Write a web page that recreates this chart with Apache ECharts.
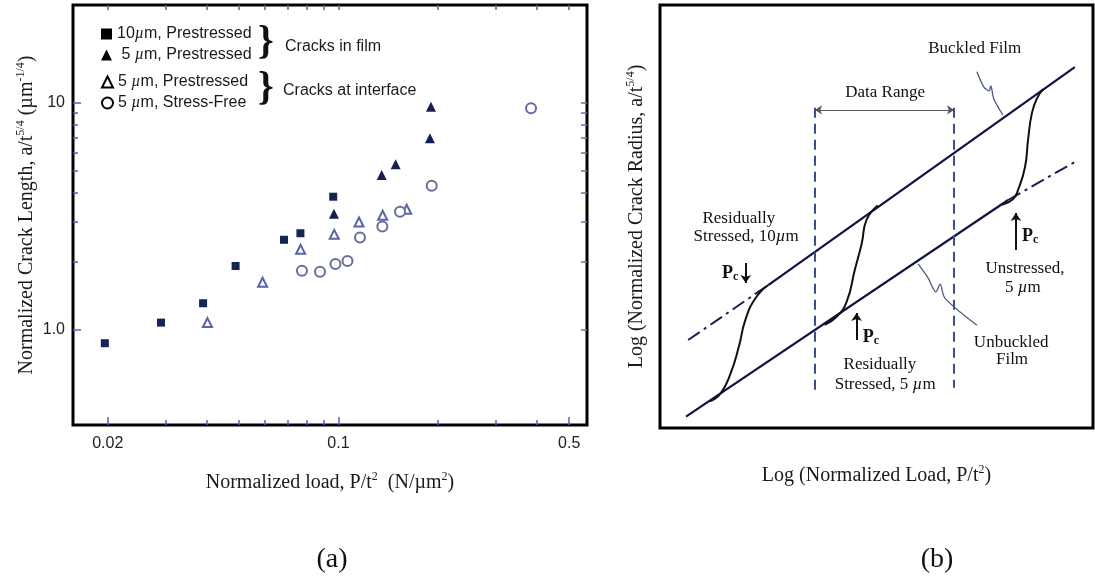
<!DOCTYPE html>
<html>
<head>
<meta charset="utf-8">
<script src="https://cdn.jsdelivr.net/npm/echarts@6/dist/echarts.min.js"></script>
<style>
    html, body { margin: 0; padding: 0; background: #fff; }
    #main { width: 1095px; height: 581px; }
</style>
</head>
<body>
<div id="main"></div>
<script>
// ---- panel (a): measured points [P/t^2, a/t^5/4] ----
var film10 = [[0.0196, 0.874], [0.0290, 1.077], [0.0389, 1.31], [0.0488, 1.91], [0.0684, 2.49], [0.0767, 2.66], [0.0964, 3.85]];
var film5 = [[0.0969, 3.24], [0.1352, 4.80], [0.1490, 5.35], [0.1893, 6.96], [0.1906, 9.58]];
var iface5 = [[0.0401, 1.077], [0.0589, 1.62], [0.0768, 2.26], [0.0971, 2.63], [0.1154, 2.98], [0.1361, 3.19], [0.1609, 3.39]];
var free5 = [[0.0775, 1.82], [0.0879, 1.80], [0.0979, 1.95], [0.1065, 2.01], [0.1162, 2.55], [0.1358, 2.85], [0.1536, 3.31], [0.1916, 4.30], [0.3831, 9.43]];
var seriesNames = ['10µm, Prestressed (film)', '5 µm, Prestressed (film)', '5 µm, Prestressed (interface)', '5 µm, Stress-Free (interface)'];
var legendLabels = ['{t|10}{it|µ}{t|m, Prestressed}', '{t| 5 }{it|µ}{t|m, Prestressed}', '{t|5 }{it|µ}{t|m, Prestressed}', '{t|5 }{it|µ}{t|m, Stress-Free}'];

var xTickValues = [0.02, 0.1, 0.5];
var xTickLabels = ['0.02', '0.1', '0.5'];
var xMinorTicks = [0.03, 0.04, 0.05, 0.06, 0.07, 0.08, 0.09, 0.2, 0.3, 0.4];
var yTickValues = [1, 10];
var yTickLabels = ['1.0', '10'];
var yMinorTicks = [2, 3, 4, 5, 6, 7, 8, 9];

// ---- panel (b): schematic, both axes 0..100 (log units) ----
var upperDash = [[6.5, 20.8], [25.0, 33.8]];
var upperSolid = [[25.0, 33.8], [95.8, 85.3]];
var lowerSolid = [[6.0, 2.7], [80.4, 53.9]];
var lowerDash = [[80.4, 53.9], [95.8, 62.9]];
var curve10 = [[11.5, 6.3], [14.0, 8.2], [16.3, 12.9], [18.2, 19.2], [19.7, 25.5], [22.0, 30.6], [25.0, 33.8]];
var curve5 = [[38.0, 24.4], [40.8, 26.3], [43.1, 29.8], [45.0, 37.4], [46.6, 43.7], [47.7, 49.2], [50.3, 52.6]];
var curveFree = [[79.0, 52.8], [81.5, 54.1], [82.7, 56.3], [84.3, 61.7], [85.0, 68.1], [85.9, 74.5], [87.1, 78.0], [88.5, 80.1]];
var rangeLeft = [[35.8, 75.7], [35.8, 8.3]];
var rangeRight = [[67.9, 75.7], [67.9, 9.5]];
var rangeArrow = [[35.8, 75.2], [67.9, 75.2]];
var pcArrows = [[[19.8, 39.0], [19.8, 34.3]], [[45.4, 20.8], [45.4, 27.2]], [[82.2, 42.1], [82.2, 50.8]]];
var buckledLeader = [[73.2, 84.2], [74.8, 80.6], [76.0, 79.7], [76.4, 80.9], [77.1, 77.8], [79.2, 74.0]];
var unbuckledLeader = [[59.6, 38.8], [61.9, 35.5], [63.7, 32.2], [64.7, 34.0], [65.8, 30.7], [73.2, 24.3]];
var noteText = ['Buckled Film', 'Data Range', 'Residually', 'Stressed, 10{it|µ}m', '{p|P}{c|c}',
    'Residually', 'Stressed, 5 {it|µ}m', '{p|P}{c|c}', 'Unstressed,', '5 {it|µ}m', 'Unbuckled', 'Film', '{p|P}{c|c}'];
var notePos = [[72.7, 89.8], [52.0, 79.4], [18.2, 49.6], [19.9, 45.2], [16.2, 36.6],
    [50.8, 14.9], [52.0, 10.2], [48.7, 21.5], [84.3, 37.6], [83.8, 33.3], [81.1, 20.3], [81.3, 16.3], [85.5, 45.4]];

function pickLabel(vals, labels, v) {
    var best = 0;
    for (var i = 1; i < vals.length; i++) {
        if (Math.abs(Math.log(vals[i] / v)) < Math.abs(Math.log(vals[best] / v))) best = i;
    }
    return labels[best];
}

var serif = 'Liberation Serif';
var sans = 'Liberation Sans';
var tickBlue = '#5a5ad6';
var supRich = {
    sup: { fontSize: 12, fontFamily: serif, verticalAlign: 'top', lineHeight: 12, color: '#1a1a1a' }
};
var x1 = 0.0157, x2 = 0.566, y1 = 0.382, y2 = 26.8;

function logX(opt) {
    return Object.assign({
        type: 'log', gridIndex: 0, min: x1, max: x2, position: 'bottom',
        axisLine: { show: false, onZero: false },
        splitLine: { show: false },
        axisLabel: { show: false },
        axisTick: { show: false }
    }, opt);
}
function logY(opt) {
    return Object.assign({
        type: 'log', gridIndex: 0, min: y1, max: y2, position: 'left',
        axisLine: { show: false, onZero: false },
        splitLine: { show: false },
        axisLabel: { show: false },
        axisTick: { show: false }
    }, opt);
}

var legendFmt = function (name) {
    return legendLabels[seriesNames.indexOf(name)];
};
var legendText = {
    rich: {
        t: { fontFamily: sans, fontSize: 16, color: '#1a1a1a' },
        it: { fontFamily: serif, fontSize: 16, fontStyle: 'italic', color: '#1a1a1a' }
    }
};

var chart = echarts.init(document.getElementById('main'));
var option = {
    backgroundColor: '#fff',
    animation: false,
    grid: [
        { left: 73, top: 5, width: 514, height: 420, show: true, borderColor: '#000', borderWidth: 3, backgroundColor: 'transparent' },
        { left: 660, top: 5, width: 433, height: 423, show: true, borderColor: '#000', borderWidth: 3, backgroundColor: 'transparent' }
    ],
    legend: [
        {
            data: [{ name: seriesNames[0], icon: 'rect', itemStyle: { color: '#000' } },
                   { name: seriesNames[1], icon: 'triangle', itemStyle: { color: '#000' } }],
            orient: 'vertical', left: 96, top: 21, itemWidth: 11, itemHeight: 11, itemGap: 5,
            selectedMode: false, formatter: legendFmt, textStyle: legendText
        },
        {
            data: [{ name: seriesNames[2], icon: 'emptyTriangle', itemStyle: { color: '#000', borderColor: '#000', borderWidth: 1.5 } },
                   { name: seriesNames[3], icon: 'emptyCircle', itemStyle: { color: '#000', borderColor: '#000', borderWidth: 1.5 } }],
            orient: 'vertical', left: 96, top: 69, itemWidth: 11, itemHeight: 11, itemGap: 5,
            selectedMode: false, formatter: legendFmt, textStyle: legendText
        }
    ],
    xAxis: [
        logX({
            axisTick: { show: true, inside: true, length: 8, customValues: xTickValues, lineStyle: { color: tickBlue, width: 1.5 } },
            axisLabel: {
                show: true, customValues: xTickValues, margin: 11,
                fontFamily: sans, fontSize: 16, color: '#222',
                formatter: function (v) { return pickLabel(xTickValues, xTickLabels, v); }
            },
            name: 'Normalized load, P/t{sup|2}  (N/µm{sup|2})',
            nameLocation: 'middle', nameGap: 46,
            nameTextStyle: { fontFamily: serif, fontSize: 20, color: '#1a1a1a', lineHeight: 24, rich: supRich }
        }),
        logX({
            axisTick: { show: true, inside: true, length: 5, customValues: xMinorTicks, lineStyle: { color: tickBlue, width: 1.5 } }
        }),
        logX({
            position: 'top',
            axisTick: { show: true, inside: true, length: 5, customValues: xTickValues.concat(xMinorTicks), lineStyle: { color: '#666', width: 1.5 } }
        }),
        {
            type: 'value', gridIndex: 1, min: 0, max: 100,
            axisLine: { show: false }, axisTick: { show: false }, axisLabel: { show: false }, splitLine: { show: false },
            name: 'Log (Normalized Load, P/t{sup|2})',
            nameLocation: 'middle', nameGap: 36,
            nameTextStyle: { fontFamily: serif, fontSize: 20, color: '#1a1a1a', lineHeight: 24, rich: supRich }
        }
    ],
    yAxis: [
        logY({
            axisTick: { show: true, inside: true, length: 8, customValues: yTickValues, lineStyle: { color: tickBlue, width: 1.5 } },
            axisLabel: {
                show: true, customValues: yTickValues, margin: 8,
                fontFamily: sans, fontSize: 16, color: '#222',
                formatter: function (v) { return pickLabel(yTickValues, yTickLabels, v); }
            },
            name: 'Normalized Crack Length, a/t{sup|5/4} (µm{sup|-1/4})',
            nameLocation: 'middle', nameGap: 24,
            nameTextStyle: { fontFamily: serif, fontSize: 20, color: '#1a1a1a', lineHeight: 24, rich: supRich }
        }),
        logY({
            axisTick: { show: true, inside: true, length: 5, customValues: yMinorTicks, lineStyle: { color: tickBlue, width: 1.5 } }
        }),
        logY({
            position: 'right',
            axisTick: { show: true, inside: true, length: 6, customValues: yTickValues.concat(yMinorTicks), lineStyle: { color: '#6a6fa8', width: 1.5 } }
        }),
        {
            type: 'value', gridIndex: 1, min: 0, max: 100,
            axisLine: { show: false }, axisTick: { show: false }, axisLabel: { show: false }, splitLine: { show: false },
            name: 'Log (Normalized Crack Radius, a/t{sup|5/4})',
            nameLocation: 'middle', nameGap: 11,
            nameTextStyle: { fontFamily: serif, fontSize: 20, color: '#1a1a1a', lineHeight: 24, rich: supRich }
        }
    ],
    graphic: [
        { type: 'text', x: 266, y: 43, style: { text: '}', font: 'bold 40px "Liberation Serif"', fill: '#111', textAlign: 'center', textVerticalAlign: 'middle' } },
        { type: 'text', x: 266, y: 89, style: { text: '}', font: 'bold 40px "Liberation Serif"', fill: '#111', textAlign: 'center', textVerticalAlign: 'middle' } },
        { type: 'text', x: 285, y: 47, style: { text: 'Cracks in film', font: '16px "Liberation Sans"', fill: '#1a1a1a', textAlign: 'left', textVerticalAlign: 'middle' } },
        { type: 'text', x: 283, y: 91, style: { text: 'Cracks at interface', font: '16px "Liberation Sans"', fill: '#1a1a1a', textAlign: 'left', textVerticalAlign: 'middle' } },
        { type: 'text', x: 332, y: 560, style: { text: '(a)', font: '28px "Liberation Serif"', fill: '#111', textAlign: 'center', textVerticalAlign: 'middle' } },
        { type: 'text', x: 937, y: 560, style: { text: '(b)', font: '28px "Liberation Serif"', fill: '#111', textAlign: 'center', textVerticalAlign: 'middle' } }
    ],
    series: []
};

// panel (a) scatter series
var aStyles = [
    { symbol: 'rect', symbolSize: 8, itemStyle: { color: '#142457', opacity: 1 } },
    { symbol: 'triangle', symbolSize: 10, itemStyle: { color: '#151d55', opacity: 1 } },
    { symbol: 'emptyTriangle', symbolSize: 9, itemStyle: { color: '#5a64a8', borderWidth: 1.5, opacity: 1 } },
    { symbol: 'emptyCircle', symbolSize: 10, itemStyle: { color: '#666d9e', borderWidth: 1.8, opacity: 1 } }
];
[film10, film5, iface5, free5].forEach(function (d, i) {
    option.series.push(Object.assign({
        name: seriesNames[i], type: 'scatter', xAxisIndex: 0, yAxisIndex: 0, data: d
    }, aStyles[i]));
});

// panel (b) lines
function bLine(data, color, width, type, smooth) {
    return {
        type: 'line', xAxisIndex: 3, yAxisIndex: 3, data: data, symbol: 'none', smooth: smooth || false,
        lineStyle: { color: color, width: width, type: type || 'solid' }, silent: true
    };
}
var dashDot = [14, 5, 3, 5];
option.series.push(
    bLine(upperDash, '#1a1a5a', 2, dashDot),
    bLine(upperSolid, '#10104a', 2.2),
    bLine(lowerSolid, '#10104a', 2.2),
    bLine(lowerDash, '#1a1a5a', 2, dashDot),
    bLine(curve10, '#111', 2, 'solid', 0.5),
    bLine(curve5, '#111', 2, 'solid', 0.5),
    bLine(curveFree, '#111', 2, 'solid', 0.5),
    bLine(rangeLeft, '#3a4e96', 2, [10, 6]),
    bLine(rangeRight, '#3a4e96', 2, [10, 6]),
    bLine(buckledLeader, '#4a5a86', 1.3, 'solid', 0.3),
    bLine(unbuckledLeader, '#4a5a86', 1.3, 'solid', 0.3)
);
option.series.push({
    type: 'lines', coordinateSystem: 'cartesian2d', xAxisIndex: 3, yAxisIndex: 3,
    symbol: ['none', 'arrow'], symbolSize: 8, silent: true,
    lineStyle: { color: '#111', width: 2, opacity: 1 },
    data: pcArrows.map(function (c) { return { coords: c }; })
});
option.series.push({
    type: 'lines', coordinateSystem: 'cartesian2d', xAxisIndex: 3, yAxisIndex: 3,
    symbol: ['arrow', 'arrow'], symbolSize: 7, silent: true,
    lineStyle: { color: '#555', width: 1, opacity: 1 },
    data: [{ coords: rangeArrow }]
});
option.series.push({
    type: 'scatter', xAxisIndex: 3, yAxisIndex: 3, symbolSize: 1, silent: true,
    itemStyle: { color: 'rgba(0,0,0,0)', opacity: 1 },
    data: notePos.map(function (p, i) { return { value: p, name: noteText[i] }; }),
    label: {
        show: true, position: 'inside', color: '#111',
        fontFamily: serif, fontSize: 17,
        formatter: function (p) { return p.name; },
        rich: {
            it: { fontFamily: serif, fontSize: 17, fontStyle: 'italic', color: '#111' },
            p: { fontFamily: serif, fontSize: 18, fontWeight: 'bold', color: '#111', lineHeight: 20 },
            c: { fontFamily: serif, fontSize: 12, fontWeight: 'bold', color: '#111', verticalAlign: 'bottom', lineHeight: 13 }
        }
    }
});

chart.setOption(option);
</script>
</body>
</html>
